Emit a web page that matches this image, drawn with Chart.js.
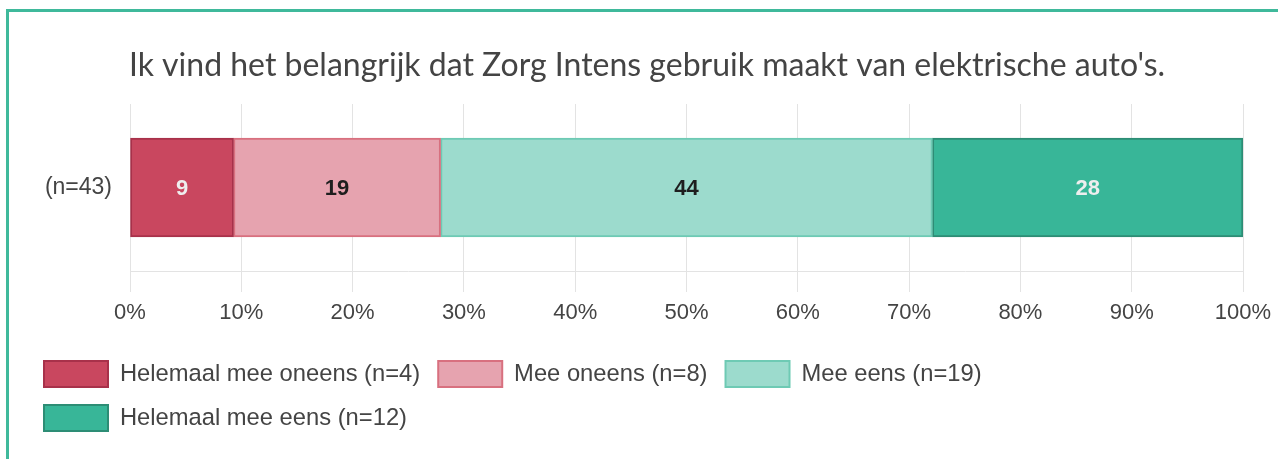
<!DOCTYPE html>
<html>
<head>
<meta charset="utf-8">
<script src="https://cdn.jsdelivr.net/npm/chart.js@4"></script>
<style>
  html, body { margin: 0; padding: 0; background: #fff; overflow: hidden; }
  .frame { position: absolute; left: 6px; top: 9px; width: 1400px; height: 600px; border: 3px solid #3fb99b; box-sizing: border-box; }
  .wrap { position: absolute; left: 0; top: 0; width: 1278px; height: 459px; }
</style>
</head>
<body>
<div class="frame"></div>
<div class="wrap"><canvas id="stackChart"></canvas></div>
<script>
const categories = ['(n=43)'];
const seriesNames = ['Helemaal mee oneens', 'Mee oneens', 'Mee eens', 'Helemaal mee eens'];
const seriesCounts = [4, 8, 19, 12];
const tickLabels = ['0%', '10%', '20%', '30%', '40%', '50%', '60%', '70%', '80%', '90%', '100%'];
const fillColors = ['#c9475f', '#e6a3af', '#9cdbcd', '#38b698'];
const borderColors = ['#a8314a', '#d8707f', '#6ecab4', '#2d8d75'];
const labelColors = ['#eeeeee', '#1e1e1e', '#1e1e1e', '#eeeeee'];

const total = seriesCounts.reduce((a, b) => a + b, 0);

// draw the rounded percentage in the middle of each segment
const segmentLabels = {
    id: 'segmentLabels',
    afterLayout(chart) {
        // title sits a bit right of the plot centre in the original
        chart.titleBlock.left += 12.5;
        chart.titleBlock.right += 12.5;
    },
    afterDatasetsDraw(chart) {
        const ctx = chart.ctx;
        ctx.save();
        ctx.font = 'bold 22px "Liberation Sans", Arial, sans-serif';
        ctx.textAlign = 'center';
        ctx.textBaseline = 'middle';
        chart.data.datasets.forEach((ds, i) => {
            chart.getDatasetMeta(i).data.forEach((bar, j) => {
                const p = bar.getCenterPoint();
                ctx.fillStyle = labelColors[i];
                ctx.fillText(Math.round(ds.data[j]), p.x, p.y + 1);
            });
        });
        ctx.restore();
    }
};

const ctx = document.getElementById('stackChart').getContext('2d');

const stackChart = new Chart(ctx, {
    type: 'bar',
    data: {
        labels: categories,
        datasets: seriesNames.map((name, i) => ({
            label: name + ' (n=' + seriesCounts[i] + ')',
            data: [seriesCounts[i] / total * 100],
            backgroundColor: fillColors[i],
            borderColor: borderColors[i],
            borderWidth: 2,
            borderSkipped: false,
            barThickness: 99
        }))
    },
    options: {
        indexAxis: 'y',
        responsive: true,
        maintainAspectRatio: false,
        animation: false,
        layout: { padding: { left: 26, right: 35, top: 0, bottom: 18 } },
        plugins: {
            title: {
                display: true,
                text: "Ik vind het belangrijk dat Zorg Intens gebruik maakt van elektrische auto's.",
                color: '#444444',
                font: { family: 'Lato', size: 32, weight: 'normal' },
                padding: { top: 46, bottom: 19.6 }
            },
            legend: {
                position: 'bottom',
                align: 'start',
                labels: {
                    boxWidth: 64,
                    boxHeight: 26,
                    padding: 18,
                    color: '#444444',
                    font: { family: '"Liberation Sans", Arial, sans-serif', size: 23.75 }
                }
            },
            tooltip: { enabled: false }
        },
        scales: {
            x: {
                stacked: true,
                min: 0,
                max: 100,
                afterBuildTicks: (scale) => {
                    scale.ticks = tickLabels.map((t, i) => ({ value: i * 10 }));
                },
                afterFit: (scale) => {
                    scale.height = 72;
                    scale.paddingLeft = 0;
                    scale.paddingRight = 0;
                },
                grid: { color: '#e3e3e3', tickLength: 21, drawTicks: true },
                border: { display: true, color: '#e3e3e3' },
                ticks: {
                    color: '#444444',
                    padding: 8,
                    font: { family: '"Liberation Sans", Arial, sans-serif', size: 22 },
                    callback: (v, i) => tickLabels[i]
                }
            },
            y: {
                stacked: true,
                afterFit: (scale) => { scale.width = 104; },
                grid: { display: false, drawTicks: false },
                border: { display: false },
                ticks: {
                    color: '#444444',
                    padding: 18,
                    font: { family: '"Liberation Sans", Arial, sans-serif', size: 23 }
                }
            }
        }
    },
    plugins: [segmentLabels]
});
</script>
</body>
</html>
